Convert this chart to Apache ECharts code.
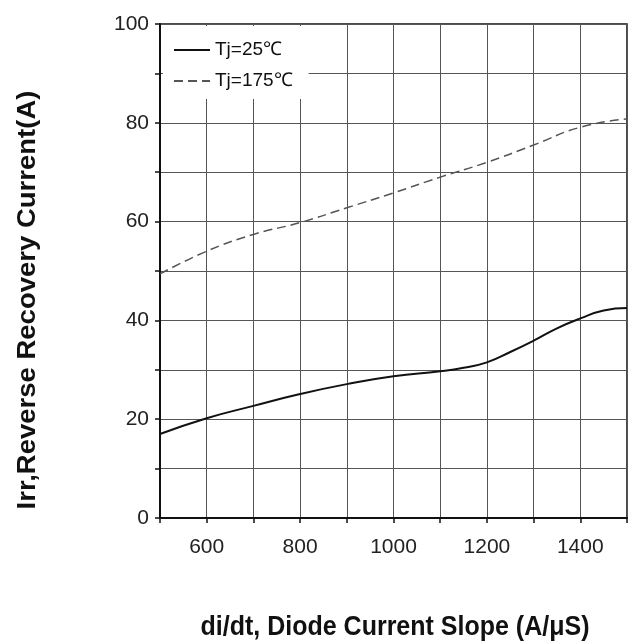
<!DOCTYPE html>
<html><head><meta charset="utf-8">
<script src="https://cdn.jsdelivr.net/npm/echarts@6/dist/echarts.min.js"></script>
<style>html,body{margin:0;padding:0;background:#fff}#c{width:630px;height:643px}</style>
</head><body><div id="c"></div>
<script>
const xValues = [500, 600, 700, 800, 900, 1000, 1100, 1150, 1200, 1250, 1300, 1350, 1400, 1450, 1500];
const irr25 = [17.0, 20.2, 22.7, 25.1, 27.1, 28.7, 29.7, 30.4, 31.5, 33.6, 35.9, 38.4, 40.4, 42.0, 42.5];
const x175 = [500, 600, 700, 800, 900, 1000, 1100, 1200, 1300, 1400, 1500];
const irr175 = [49.4, 54.0, 57.4, 59.8, 62.8, 65.8, 69.0, 72.0, 75.5, 79.1, 80.8];
const seriesNames = ['Tj=25\u2103', 'Tj=175\u2103'];
const xTitle = 'di/dt, Diode Current Slope (A/\u03bcS)';
const yTitle = 'Irr,Reverse Recovery Current(A)';

const font = '"Liberation Sans", Arial, sans-serif';
const chart = echarts.init(document.getElementById('c'), null, {renderer: 'canvas'});
chart.setOption({
  animation: false,
  backgroundColor: '#fff',
  grid: {left: 160, right: 2, top: 24, bottom: 125, show: true, borderColor: '#111', borderWidth: 1.5},
  legend: {
    orient: 'vertical', left: 163, top: 26, itemGap: 11, itemWidth: 36, itemHeight: 14,
    backgroundColor: '#fff', padding: [14, 16, 8, 10],
    itemStyle: {opacity: 0},
    textStyle: {fontFamily: font, fontSize: 19, lineHeight: 20, color: '#111'},
    data: seriesNames
  },
  xAxis: {
    type: 'value', min: 500, max: 1500, interval: 100,
    axisLine: {show: true, lineStyle: {color: '#111', width: 2}},
    axisTick: {show: true, length: 5, lineStyle: {color: '#111', width: 1.5}},
    splitLine: {show: true, lineStyle: {color: '#555', width: 1}},
    axisLabel: {margin: 19, fontFamily: font, fontSize: 21, color: '#222',
      formatter: v => (v % 200 === 0 ? String(v) : '')}
  },
  yAxis: {
    type: 'value', min: 0, max: 100, interval: 10,
    axisLine: {show: true, lineStyle: {color: '#111', width: 2}},
    axisTick: {show: true, length: 5, lineStyle: {color: '#111', width: 1.5}},
    splitLine: {show: true, lineStyle: {color: '#555', width: 1}},
    axisLabel: {margin: 11, fontFamily: font, fontSize: 21, color: '#222',
      formatter: v => (v % 20 === 0 ? String(v) : '')}
  },
  series: [
    {name: seriesNames[0], type: 'line', smooth: true, symbol: 'none',
     lineStyle: {color: '#111', width: 2}, itemStyle: {color: '#111'},
     data: xValues.map((x, i) => [x, irr25[i]])},
    {name: seriesNames[1], type: 'line', smooth: true, symbol: 'none',
     lineStyle: {color: '#555', width: 1.5, type: [9, 5]}, itemStyle: {color: '#555'},
     data: x175.map((x, i) => [x, irr175[i]])}
  ],
  graphic: [
    {type: 'text', x: 395, y: 627, scaleY: 1.1, style: {text: xTitle, fontFamily: font, fontWeight: 'bold', fontSize: 25, fill: '#111', align: 'center', verticalAlign: 'middle'}},
    {type: 'text', x: 28, y: 300, rotation: Math.PI / 2, scaleX: 1.1, style: {text: yTitle, fontFamily: font, fontWeight: 'bold', fontSize: 25, fill: '#111', align: 'center', verticalAlign: 'middle'}}
  ]
});
</script></body></html>
